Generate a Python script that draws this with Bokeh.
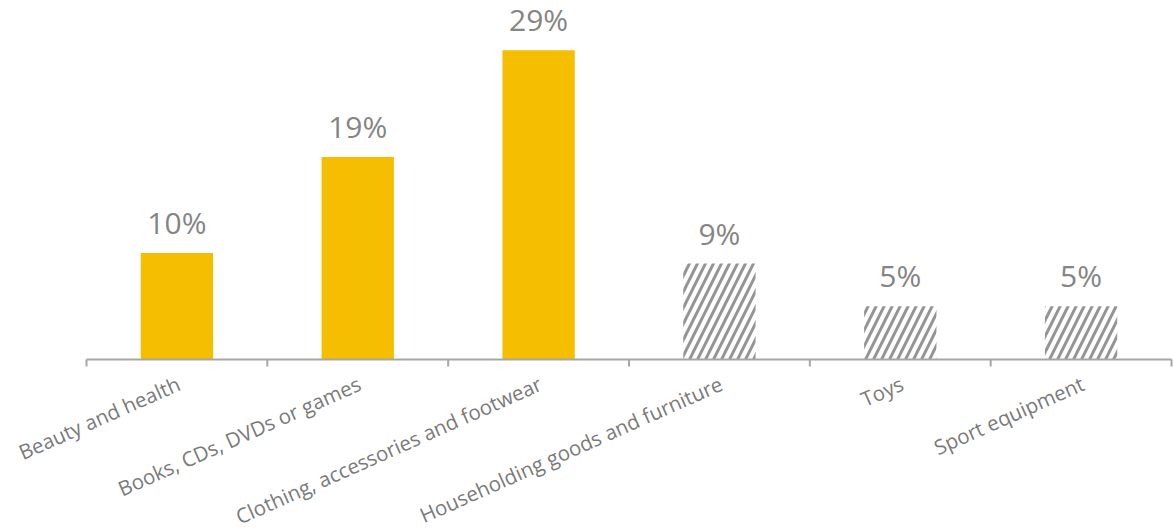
import math
from bokeh.plotting import figure
from bokeh.models import ColumnDataSource, Range1d, LabelSet
from bokeh.core.properties import value
from bokeh.embed import file_html
from bokeh.resources import INLINE

categories = ["Beauty and health", "Books, CDs, DVDs or games",
              "Clothing, accessories and footwear",
              "Householding goods and furniture", "Toys", "Sport equipment"]
shares = [10, 19, 29, 9, 5, 5]
labels = ["10%", "19%", "29%", "9%", "5%", "5%"]
hatched = [False, False, False, True, True, True]

n = len(categories)
centers = [i + 0.5 for i in range(n)]
bounds = list(range(n + 1))

# frame covers the whole page; axis drawn inside it at y = 0
px_per_cat = 1085 / n
px_per_pct = 10.66
p = figure(width=1173, height=529, output_backend="svg", toolbar_location=None,
           x_range=Range1d(-86 / px_per_cat, n + 2 / px_per_cat),
           y_range=Range1d(-170 / px_per_pct, 359 / px_per_pct),
           min_border=0)
p.outline_line_color = None
p.grid.visible = False
p.axis.visible = False

solid = ColumnDataSource(dict(x=[c for c, h in zip(centers, hatched) if not h],
                              top=[s for s, h in zip(shares, hatched) if not h]))
hat = ColumnDataSource(dict(x=[c for c, h in zip(centers, hatched) if h],
                            top=[s for s, h in zip(shares, hatched) if h]))

p.vbar(x="x", top="top", bottom=0, width=0.4, source=solid,
       fill_color="#F5BE00", line_color=None)
p.vbar(x="x", top="top", bottom=0, width=0.4, source=hat,
       fill_color="white", line_color=None, hatch_pattern="/",
       hatch_color="#959595", hatch_scale=16, hatch_weight=3)

# axis line and boundary ticks
p.line(x=[bounds[0], bounds[-1]], y=[0, 0], line_color="#A6A6A6", line_width=2)
p.ray(x=bounds, y=[0] * len(bounds), length=7, length_units="screen",
      angle=-math.pi / 2, line_color="#A6A6A6", line_width=2)

lab = ColumnDataSource(dict(x=centers, y=shares, t=labels))
p.add_layout(LabelSet(x="x", y="y", text="t", source=lab, text_align="center",
                      text_baseline="alphabetic", y_offset=19,
                      text_font=value("Open Sans"), text_font_size=value("30px"),
                      text_color="#858585"))

cat = ColumnDataSource(dict(x=centers, y=[0] * n, t=categories))
p.add_layout(LabelSet(x="x", y="y", text="t", source=cat, text_align="right",
                      text_baseline="top", x_offset=-4, y_offset=-10,
                      angle=math.radians(24),
                      text_font=value("Open Sans"), text_font_size=value("20.5px"),
                      text_color="#7A7A7A"))

open("out.html", "w").write(file_html(p, INLINE))
